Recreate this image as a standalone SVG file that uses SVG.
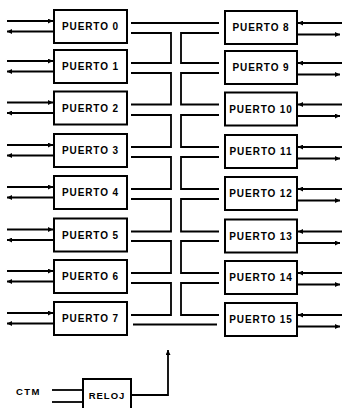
<svg xmlns="http://www.w3.org/2000/svg" width="342" height="408" viewBox="0 0 342 408">
<style>
.box{fill:#fff;stroke:#000;stroke-width:2}
.ln{fill:none;stroke:#000;stroke-width:1.8}
.lbl{font-family:"Liberation Sans",Arial,sans-serif;font-weight:bold;font-size:10px;letter-spacing:0.9px;text-anchor:middle;fill:#000}
.ar{marker-end:url(#ah)}
</style>
<defs>
<marker id="ah" viewBox="0 0 6 6" refX="6" refY="3" markerWidth="6" markerHeight="5" orient="auto" markerUnits="userSpaceOnUse">
<path d="M0,0 L6,3 L0,6 z" fill="#000"/>
</marker>
</defs>
<rect width="342" height="408" fill="#fff"/>

<g id="connectors">
<!-- left outer arrows -->
<path class="ln ar" d="M7,21 H53"/><path class="ln ar" d="M54,31.5 H7"/>
<path class="ln ar" d="M7,61 H53"/><path class="ln ar" d="M54,71.5 H7"/>
<path class="ln ar" d="M7,102.5 H53"/><path class="ln ar" d="M54,113 H7"/>
<path class="ln ar" d="M7,145 H53"/><path class="ln ar" d="M54,155.5 H7"/>
<path class="ln ar" d="M7,187 H53"/><path class="ln ar" d="M54,197.5 H7"/>
<path class="ln ar" d="M7,229.5 H53"/><path class="ln ar" d="M54,240 H7"/>
<path class="ln ar" d="M7,271 H53"/><path class="ln ar" d="M54,281.5 H7"/>
<path class="ln ar" d="M7,313 H53"/><path class="ln ar" d="M54,323.5 H7"/>
<!-- right outer arrows -->
<path class="ln ar" d="M342,23 H298"/><path class="ln ar" d="M297,34.5 H340"/>
<path class="ln ar" d="M342,63 H298"/><path class="ln ar" d="M297,74.5 H340"/>
<path class="ln ar" d="M342,104.5 H298"/><path class="ln ar" d="M297,116 H340"/>
<path class="ln ar" d="M342,147 H298"/><path class="ln ar" d="M297,158.5 H340"/>
<path class="ln ar" d="M342,189 H298"/><path class="ln ar" d="M297,200.5 H340"/>
<path class="ln ar" d="M342,231.5 H298"/><path class="ln ar" d="M297,243 H340"/>
<path class="ln ar" d="M342,273 H298"/><path class="ln ar" d="M297,284.5 H340"/>
<path class="ln ar" d="M342,315 H298"/><path class="ln ar" d="M297,326.5 H340"/>
<!-- center straight links -->
<path class="ln" d="M131,23 H219"/>
<path class="ln" d="M133,324.5 H217"/>
<!-- left brackets -->
<path class="ln" d="M131,33 H171 V63 H131"/>
<path class="ln" d="M131,73 H171 V104.5 H131"/>
<path class="ln" d="M131,115 H171 V147 H131"/>
<path class="ln" d="M131,157 H171 V189 H131"/>
<path class="ln" d="M131,199 H171 V231.5 H131"/>
<path class="ln" d="M131,241 H171 V273 H131"/>
<path class="ln" d="M131,283 H171 V315 H131"/>
<!-- right brackets -->
<path class="ln" d="M219,33 H181 V63 H219"/>
<path class="ln" d="M219,73 H181 V104.5 H219"/>
<path class="ln" d="M219,115 H181 V147 H219"/>
<path class="ln" d="M219,157 H181 V189 H219"/>
<path class="ln" d="M219,199 H181 V231.5 H219"/>
<path class="ln" d="M219,241 H181 V273 H219"/>
<path class="ln" d="M219,283 H181 V315 H219"/>
<!-- clock -->
<path class="ln" d="M52,390 H83"/>
<path class="ln" d="M52,402 H83"/>
<path class="ln ar" d="M131,395 H168 V350"/>
</g>

<g id="p0"><rect class="box" x="54" y="10" width="73" height="33"/><text class="lbl" x="90.5" y="30">PUERTO 0</text></g>
<g id="p1"><rect class="box" x="54" y="50" width="73" height="33"/><text class="lbl" x="90.5" y="70">PUERTO 1</text></g>
<g id="p2"><rect class="box" x="54" y="91.5" width="73" height="33"/><text class="lbl" x="90.5" y="111.5">PUERTO 2</text></g>
<g id="p3"><rect class="box" x="54" y="134" width="73" height="33"/><text class="lbl" x="90.5" y="154">PUERTO 3</text></g>
<g id="p4"><rect class="box" x="54" y="176" width="73" height="33"/><text class="lbl" x="90.5" y="196">PUERTO 4</text></g>
<g id="p5"><rect class="box" x="54" y="218.5" width="73" height="33"/><text class="lbl" x="90.5" y="238.5">PUERTO 5</text></g>
<g id="p6"><rect class="box" x="54" y="260" width="73" height="33"/><text class="lbl" x="90.5" y="280">PUERTO 6</text></g>
<g id="p7"><rect class="box" x="54" y="302" width="73" height="33"/><text class="lbl" x="90.5" y="322">PUERTO 7</text></g>

<g id="p8"><rect class="box" x="225" y="11" width="72" height="33"/><text class="lbl" x="261" y="31">PUERTO 8</text></g>
<g id="p9"><rect class="box" x="225" y="51" width="72" height="33"/><text class="lbl" x="261" y="71">PUERTO 9</text></g>
<g id="p10"><rect class="box" x="225" y="92.5" width="72" height="33"/><text class="lbl" x="261" y="112.5">PUERTO 10</text></g>
<g id="p11"><rect class="box" x="225" y="135" width="72" height="33"/><text class="lbl" x="261" y="155">PUERTO 11</text></g>
<g id="p12"><rect class="box" x="225" y="177" width="72" height="33"/><text class="lbl" x="261" y="197">PUERTO 12</text></g>
<g id="p13"><rect class="box" x="225" y="219.5" width="72" height="33"/><text class="lbl" x="261" y="239.5">PUERTO 13</text></g>
<g id="p14"><rect class="box" x="225" y="261" width="72" height="33"/><text class="lbl" x="261" y="281">PUERTO 14</text></g>
<g id="p15"><rect class="box" x="225" y="303" width="72" height="33"/><text class="lbl" x="261" y="323">PUERTO 15</text></g>

<g id="reloj"><rect class="box" x="83" y="379" width="48" height="36"/><text class="lbl" x="107" y="399" style="font-size:9.5px;letter-spacing:1px">RELOJ</text></g>
<g id="ctm"><text class="lbl" x="28.5" y="395" style="font-size:9.5px;letter-spacing:1.5px">CTM</text></g>
</svg>
